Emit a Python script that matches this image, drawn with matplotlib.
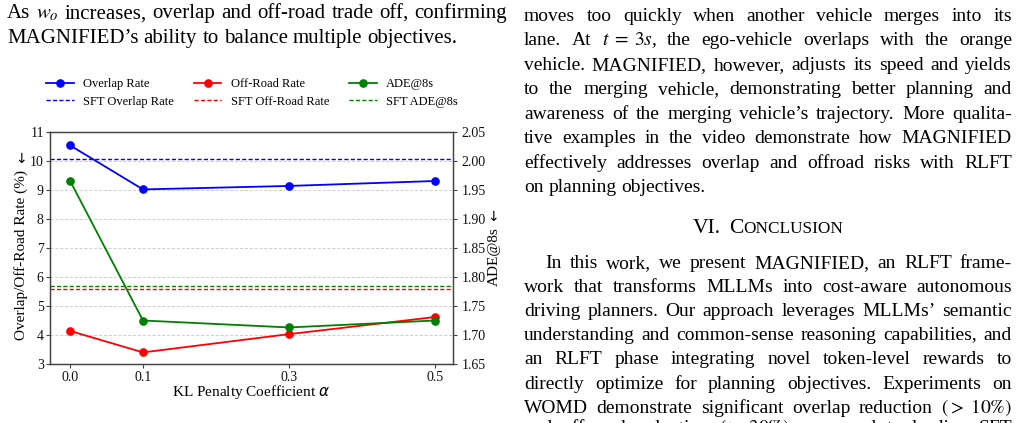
import matplotlib
matplotlib.use('Agg')
import matplotlib.pyplot as plt

# ---------------- data ----------------
alpha = [0.0, 0.1, 0.3, 0.5]
xtick_labels = ['0.0', '0.1', '0.3', '0.5']
overlap = [10.54, 9.02, 9.14, 9.31]
offroad = [4.14, 3.40, 4.03, 4.62]
ade = [1.966, 1.725, 1.713, 1.725]
sft_overlap = 10.08
sft_offroad = 5.58
sft_ade = 1.7845
left_ticks = [3, 4, 5, 6, 7, 8, 9, 10, 11]
right_ticks = [1.65, 1.70, 1.75, 1.80, 1.85, 1.90, 1.95, 2.00, 2.05]

SERIF = ['Liberation Serif', 'DejaVu Serif']
plt.rcParams['font.family'] = SERIF

W, H = 1020, 423
fig = plt.figure(figsize=(W / 100, H / 100), dpi=100)


def fx(x):
    return x / W


def fy(y):
    return 1 - y / H


SPINE = '#444444'
ax = fig.add_axes([fx(50), fy(364), (453 - 50) / W, (364 - 132) / H])
ax2 = ax.twinx()

lw, ms = 1.3, 5.2
dash = (3, 1.6)
h1, = ax.plot(alpha, overlap, color='blue', marker='o', ms=ms, lw=lw, label='Overlap Rate')
h2 = ax.axhline(sft_overlap, color='blue', ls='--', dashes=dash, lw=1.0, label='SFT Overlap Rate')
h3, = ax.plot(alpha, offroad, color='red', marker='o', ms=ms, lw=lw, label='Off-Road Rate')
h4 = ax.axhline(sft_offroad, color='red', ls='--', dashes=dash, lw=1.0, label='SFT Off-Road Rate')
h5, = ax2.plot(alpha, ade, color='green', marker='o', ms=ms, lw=lw, label='ADE@8s')
h6 = ax2.axhline(sft_ade, color='green', ls='--', dashes=dash, lw=1.0, label='SFT ADE@8s')

ax.set_xlim(-0.0274, 0.5247)
ax.set_xticks(alpha)
ax.set_xticklabels(xtick_labels)
ax.set_ylim(3, 11)
ax.set_yticks(left_ticks)
ax2.set_ylim(1.65, 2.05)
ax2.set_yticks(right_ticks)
ax2.set_yticklabels([f'{v:.2f}' for v in right_ticks])
ax.yaxis.grid(True, ls='--', dashes=(3, 2), color='#cccccc', lw=0.7)
ax.set_axisbelow(True)

for a in (ax, ax2):
    for s in a.spines.values():
        s.set_color(SPINE)
        s.set_linewidth(0.9)
    a.tick_params(colors=SPINE, labelcolor='#111111', labelsize=10, length=3, width=0.8)
ax.tick_params(axis='y', pad=1.5)
ax.tick_params(axis='x', pad=2)
ax2.tick_params(axis='y', pad=3)

fig.text(fx(21), fy(255), 'Overlap/Off-Road Rate (%)', rotation=90, ha='center', va='center', fontsize=11)
fig.text(fx(21), fy(159), '\u2193', ha='center', va='center', fontsize=10, family=['DejaVu Sans'])
fig.text(fx(494), fy(257), 'ADE@8s', rotation=90, ha='center', va='center', fontsize=11)
fig.text(fx(493), fy(217), '\u2193', ha='center', va='center', fontsize=10, family=['DejaVu Sans'])
fig.text(fx(251), fy(392), r'KL Penalty Coefficient $\alpha$', ha='center', va='center', fontsize=11,
         math_fontfamily='dejavusans')

fig.legend([h1, h2, h3, h4, h5, h6],
           [h.get_label() for h in (h1, h2, h3, h4, h5, h6)],
           ncol=3, loc='center', bbox_to_anchor=(fx(252), fy(93)), frameon=False, fontsize=9,
           handlelength=2.2, handletextpad=0.75, columnspacing=1.6, labelspacing=0.45, borderpad=0)

# ---------------- page text ----------------
renderer = fig.canvas.get_renderer()
FS = 14
FS_LEFT = 15


def put_line(s, x0, x1, yb, fs=FS, justify=True):
    words = s.split(' ')
    ts = [fig.text(fx(x0), fy(yb), w, fontsize=fs, va='baseline', ha='left', math_fontfamily='stix')
          for w in words]
    ws = [t.get_window_extent(renderer).width for t in ts]
    if justify and len(ts) > 1:
        gap = (x1 - x0 - sum(ws)) / (len(ts) - 1)
    else:
        gap = 0.25 * fs * 100 / 72
    x = x0
    for t, w in zip(ts, ws):
        t.set_x(fx(x))
        x += w + gap


left_lines = [
    "As $w_o$ increases, overlap and off-road trade off, confirming",
    "MAGNIFIED\u2019s ability to balance multiple objectives.",
]
put_line(left_lines[0], 7, 507, 18.3, fs=FS_LEFT)
put_line(left_lines[1], 7, 507, 43.3, fs=FS_LEFT, justify=False)

para1 = [
    "moves too quickly when another vehicle merges into its",
    r"lane. At $t\;=\;3s$, the ego-vehicle overlaps with the orange",
    "vehicle. MAGNIFIED, however, adjusts its speed and yields",
    "to the merging vehicle, demonstrating better planning and",
    "awareness of the merging vehicle\u2019s trajectory. More qualita-",
    "tive examples in the video demonstrate how MAGNIFIED",
    "effectively addresses overlap and offroad risks with RLFT",
    "on planning objectives.",
]
RX0, RX1 = 524, 1012
for i, s in enumerate(para1):
    put_line(s, RX0, RX1, 20.7 + i * 24.5, justify=(i < len(para1) - 1))

# heading with small caps
hb = 232.7
t1 = fig.text(0, fy(hb), 'VI.', fontsize=15.5, va='baseline', ha='left')
t2 = fig.text(0, fy(hb), 'C', fontsize=15.5, va='baseline', ha='left')
t3 = fig.text(0, fy(hb), 'ONCLUSION', fontsize=12.4, va='baseline', ha='left')
w1 = t1.get_window_extent(renderer).width
w2 = t2.get_window_extent(renderer).width
w3 = t3.get_window_extent(renderer).width
sp = 9
total = w1 + sp + w2 + w3
x = 768 - total / 2
t1.set_x(fx(x)); x += w1 + sp
t2.set_x(fx(x)); x += w2
t3.set_x(fx(x))

para2 = [
    "In this work, we present MAGNIFIED, an RLFT frame-",
    "work that transforms MLLMs into cost-aware autonomous",
    "driving planners. Our approach leverages MLLMs\u2019 semantic",
    "understanding and common-sense reasoning capabilities, and",
    "an RLFT phase integrating novel token-level rewards to",
    "directly optimize for planning objectives. Experiments on",
    r"WOMD demonstrate significant overlap reduction $(>\;10\%)$",
    r"and off-road reduction $(>\;30\%)$ compared to leading SFT",
]
for i, s in enumerate(para2):
    x0 = 545 if i == 0 else RX0
    yb = 268 + i * 24.1 if i < 7 else 433
    put_line(s, x0, RX1, yb)

fig.savefig('out.png', dpi=100)
